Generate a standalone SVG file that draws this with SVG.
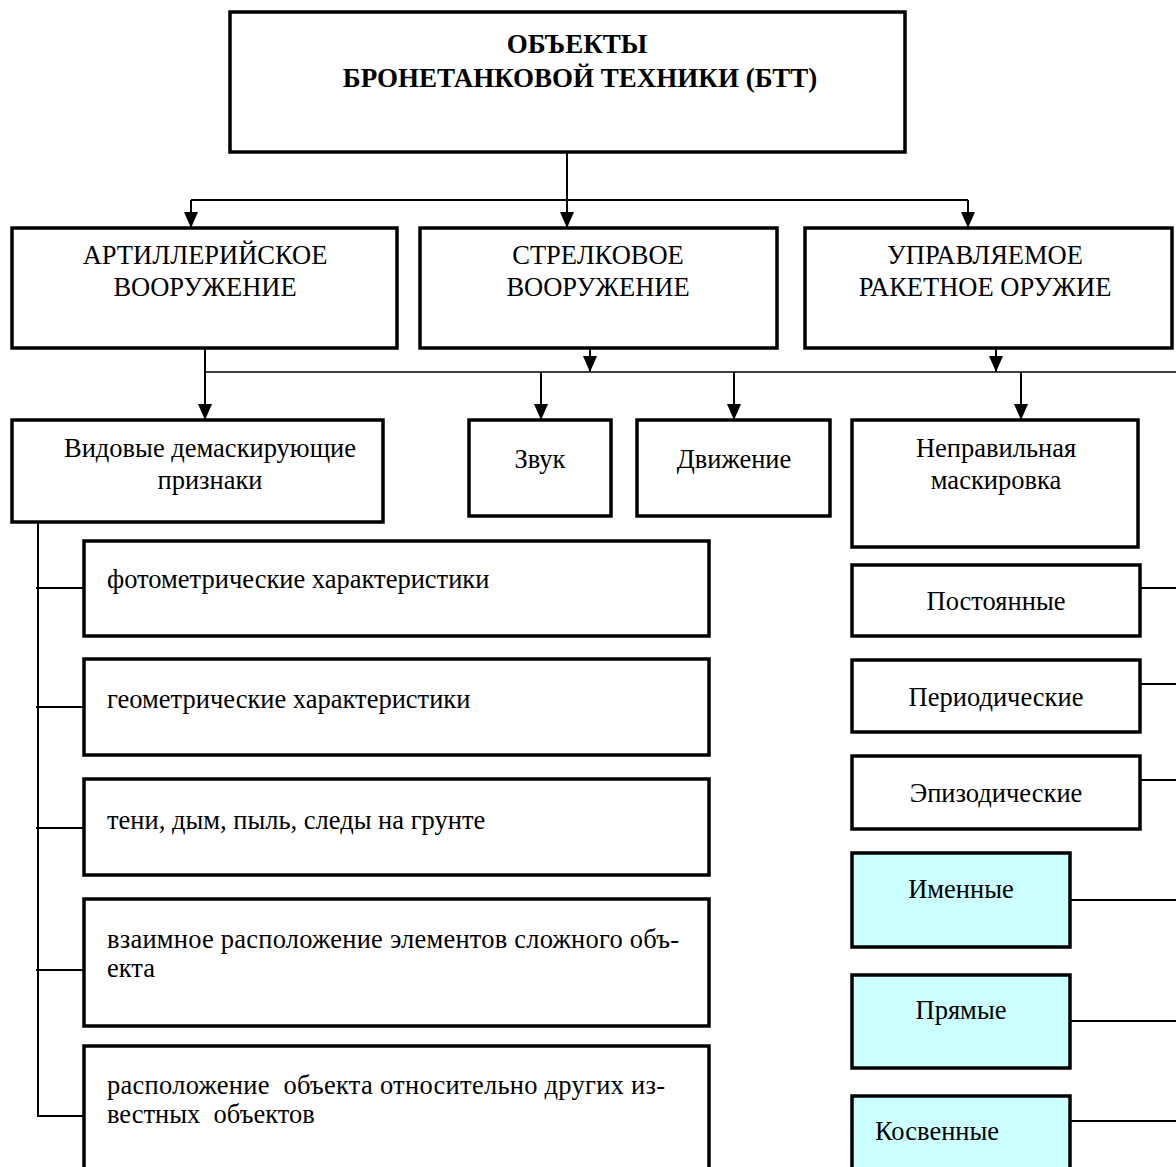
<svg xmlns="http://www.w3.org/2000/svg" width="1176" height="1167" viewBox="0 0 1176 1167">
<style>
.box{fill:#fff;stroke:#000;stroke-width:3.5}
.cyan{fill:#ccffff;stroke:#000;stroke-width:3.5}
.t{font-family:"Liberation Serif","Times New Roman",serif;font-size:26.5px;fill:#000}
.c{text-anchor:middle}
.b{font-weight:bold;font-size:27px}
.pre{white-space:pre}
.con line,.con polyline{stroke:#000;stroke-width:2;fill:none}
.thin{stroke-width:1.5 !important}
</style>
<defs>
<marker id="ar" markerUnits="userSpaceOnUse" markerWidth="16" markerHeight="14" refX="16" refY="7" orient="auto">
<path d="M0,0 L16,7 L0,14 z" fill="#000"/>
</marker>
</defs>
<rect width="1176" height="1167" fill="#fff"/>
<g class="con">
<line x1="567" y1="152" x2="567" y2="228" marker-end="url(#ar)"/>
<line x1="191" y1="200" x2="968" y2="200"/>
<line x1="191" y1="200" x2="191" y2="228" marker-end="url(#ar)"/>
<line x1="968" y1="200" x2="968" y2="228" marker-end="url(#ar)"/>
<line x1="205" y1="348" x2="205" y2="420" marker-end="url(#ar)"/>
<line class="thin" x1="205" y1="372" x2="1176" y2="372"/>
<line x1="590" y1="348" x2="590" y2="372" marker-end="url(#ar)"/>
<line x1="996" y1="348" x2="996" y2="372" marker-end="url(#ar)"/>
<line x1="541" y1="372" x2="541" y2="420" marker-end="url(#ar)"/>
<line x1="734" y1="372" x2="734" y2="420" marker-end="url(#ar)"/>
<line x1="1021" y1="372" x2="1021" y2="420" marker-end="url(#ar)"/>
<polyline points="38,522 38,1116 84,1116"/>
<line x1="36" y1="588" x2="84" y2="588"/>
<line x1="36" y1="707" x2="84" y2="707"/>
<line x1="36" y1="828" x2="84" y2="828"/>
<line x1="36" y1="970" x2="84" y2="970"/>
<line x1="1140" y1="588" x2="1176" y2="588"/>
<line x1="1140" y1="684" x2="1176" y2="684"/>
<line x1="1140" y1="780" x2="1176" y2="780"/>
<line x1="1070" y1="900" x2="1176" y2="900"/>
<line x1="1070" y1="1021" x2="1176" y2="1021"/>
<line x1="1070" y1="1121" x2="1176" y2="1121"/>
</g>
<g id="n-root"><rect class="box" x="230" y="12" width="675" height="140"/>
<text class="t b c" x="577" y="53">ОБЪЕКТЫ</text>
<text class="t b c" x="580" y="87">БРОНЕТАНКОВОЙ ТЕХНИКИ (БТТ)</text></g>
<g id="n-art"><rect class="box" x="12" y="228" width="385" height="120"/>
<text class="t c" x="205" y="264">АРТИЛЛЕРИЙСКОЕ</text>
<text class="t c" x="205" y="296">ВООРУЖЕНИЕ</text></g>
<g id="n-str"><rect class="box" x="420" y="228" width="357" height="120"/>
<text class="t c" x="598" y="264">СТРЕЛКОВОЕ</text>
<text class="t c" x="598" y="296">ВООРУЖЕНИЕ</text></g>
<g id="n-upr"><rect class="box" x="805" y="228" width="367" height="120"/>
<text class="t c" x="985" y="264">УПРАВЛЯЕМОЕ</text>
<text class="t c" x="985" y="296">РАКЕТНОЕ ОРУЖИЕ</text></g>
<g id="n-vid"><rect class="box" x="12" y="420" width="371" height="102"/>
<text class="t c" x="210" y="457">Видовые демаскирующие</text>
<text class="t c" x="210" y="489">признаки</text></g>
<g id="n-zvuk"><rect class="box" x="469" y="420" width="142" height="96"/>
<text class="t c" x="540" y="468">Звук</text></g>
<g id="n-dvizh"><rect class="box" x="637" y="420" width="193" height="96"/>
<text class="t c" x="734" y="468">Движение</text></g>
<g id="n-nepr"><rect class="box" x="852" y="420" width="286" height="127"/>
<text class="t c" x="996" y="457">Неправильная</text>
<text class="t c" x="996" y="489">маскировка</text></g>
<g id="n-f1"><rect class="box" x="84" y="541" width="625" height="95"/>
<text class="t" x="107" y="588">фотометрические характеристики</text></g>
<g id="n-f2"><rect class="box" x="84" y="659" width="625" height="96"/>
<text class="t" x="107" y="708">геометрические характеристики</text></g>
<g id="n-f3"><rect class="box" x="84" y="779" width="625" height="96"/>
<text class="t" x="107" y="829">тени, дым, пыль, следы на грунте</text></g>
<g id="n-f4"><rect class="box" x="84" y="899" width="625" height="127"/>
<text class="t" x="107" y="948" textLength="572" lengthAdjust="spacing">взаимное расположение элементов сложного объ-</text>
<text class="t" x="107" y="977">екта</text></g>
<g id="n-f5"><rect class="box" x="84" y="1046" width="625" height="130"/>
<text class="t pre" x="107" y="1094" textLength="558" lengthAdjust="spacing">расположение  объекта относительно других из-</text>
<text class="t pre" x="107" y="1123">вестных  объектов</text></g>
<g id="n-post"><rect class="box" x="852" y="565" width="288" height="71"/>
<text class="t c" x="996" y="610">Постоянные</text></g>
<g id="n-per"><rect class="box" x="852" y="660" width="288" height="72"/>
<text class="t c" x="996" y="706">Периодические</text></g>
<g id="n-epi"><rect class="box" x="852" y="756" width="288" height="73"/>
<text class="t c" x="996" y="802">Эпизодические</text></g>
<g id="n-imen"><rect class="cyan" x="852" y="853" width="218" height="94"/>
<text class="t c" x="961" y="898">Именные</text></g>
<g id="n-pryam"><rect class="cyan" x="852" y="975" width="218" height="93"/>
<text class="t c" x="961" y="1019">Прямые</text></g>
<g id="n-kosv"><rect class="cyan" x="852" y="1096" width="218" height="80"/>
<text class="t" x="875" y="1140">Косвенные</text></g>
</svg>
